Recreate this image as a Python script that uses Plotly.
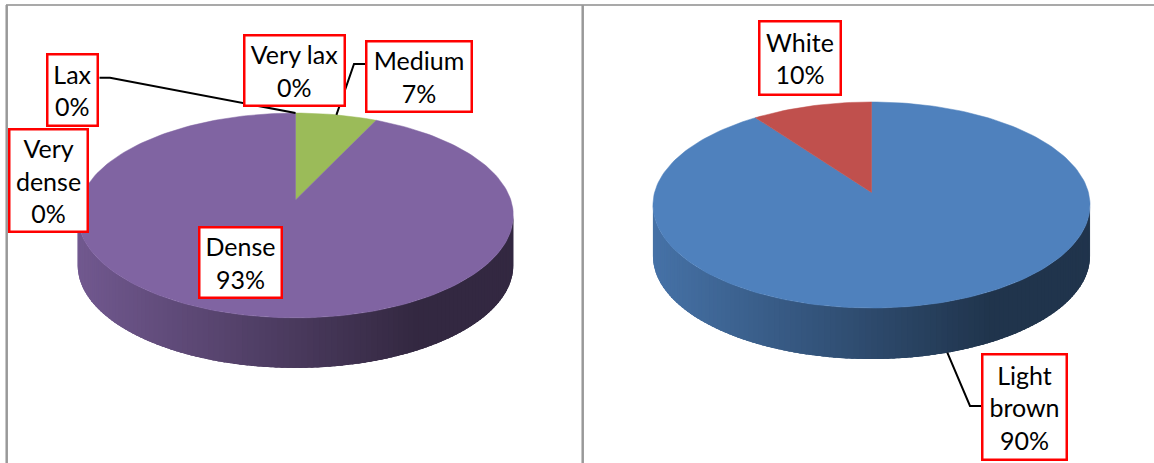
import numpy as np
import plotly.graph_objects as go

# ---------------- data ----------------
density_labels = ["Very lax", "Lax", "Medium", "Dense", "Very dense"]
density_values = [0, 0, 7, 93, 0]
color_labels = ["Light brown", "White"]
color_values = [90, 10]

# Excel 2007 default series colours
SERIES_COLORS = ["#4F81BD", "#C0504D", "#9BBB59", "#8064A2", "#4BACC6"]

W, H = 1154, 463
FONT = dict(family="Lato, 'Open Sans', sans-serif", size=25, color="black")

# ---------------- pie geometry (pixel space) ----------------
PIES = [
    dict(labels=density_labels, values=density_values,
         cx=295.5, cy=200.0, A=215.3, B=100.1, k=0.151, depth=50,
         boxes={  # centre x, centre y, box width, box height, wrap
             "Very lax": (294.2, 70.7, 103, 73, False),
             "Lax": (72.8, 89.7, 53, 74, False),
             "Medium": (418.8, 76.7, 108, 73, False),
             "Dense": (240.5, 262.5, 85, 73, False),
             "Very dense": (48.8, 180.0, 81, 105, True),
         },
         leaders={  # box-side start, elbow; end computed on pie
             "Lax": ((99.5, 77.7), (110, 77.7), "top"),
             "Medium": ((365, 64), (354, 64), "top"),
         }),
    dict(labels=color_labels, values=color_values,
         cx=871.5, cy=192.4, A=216.9, B=101.5, k=0.1223, depth=51,
         boxes={
             "White": (800.3, 57.9, 84, 76, False),
             "Light brown": (1024.5, 407.0, 87, 108, True),
         },
         leaders={
             "Light brown": ((981, 406), (970, 406), "bottom"),
         }),
]


def proj(p, theta, dz=0.0):
    """theta: radians clockwise from 12 o'clock (far side)."""
    u = np.sin(theta)
    v = -np.cos(theta)
    s = 1.0 / (1.0 - p["k"] * v)
    return p["cx"] + p["A"] * u * s, p["cy"] + p["B"] * v * s + dz


def darken(hexcol, f):
    h = hexcol.lstrip("#")
    r, g, b = (int(h[i:i + 2], 16) for i in (0, 2, 4))
    return "rgb(%d,%d,%d)" % (round(r * f), round(g * f), round(b * f))


fig = go.Figure()
annotations = []

for p in PIES:
    vals = np.array(p["values"], dtype=float)
    total = vals.sum()
    cum = np.concatenate([[0], np.cumsum(vals)]) / total * 2 * np.pi
    starts, ends = cum[:-1], cum[1:]

    def slice_at(th):
        for i in range(len(vals)):
            if vals[i] > 0 and starts[i] <= th <= ends[i]:
                return i
        return int(np.argmax(vals))

    # ---- side wall (front arc), shaded lighter left -> darker right ----
    t1 = np.arccos(-p["k"])
    t2 = 2 * np.pi - t1
    N = 120
    edges = np.linspace(t1, t2, N + 1)
    step = edges[1] - edges[0]
    xl, _ = proj(p, 3 * np.pi / 2)
    xr, _ = proj(p, np.pi / 2)
    for i in range(N):
        ta = edges[i]
        tb = min(edges[i + 1] + 1.5 * step, t2)
        ts = np.linspace(ta, tb, 5)
        xt, yt = proj(p, ts)
        xb, yb = proj(p, ts[::-1], p["depth"])
        xm, _ = proj(p, edges[i] + step / 2)
        pos = (xm - xl) / (xr - xl)  # 0 = left, 1 = right
        f = 0.88 - (0.88 - 0.40) * min(max(pos, 0) / 0.78, 1.0)
        col = darken(SERIES_COLORS[slice_at(edges[i] + step / 2)], f)
        fig.add_trace(go.Scatter(
            x=np.concatenate([xt, xb]), y=np.concatenate([yt, yb]),
            mode="lines", fill="toself", fillcolor=col,
            line=dict(width=0), hoverinfo="skip", showlegend=False))

    # ---- top face slices ----
    for i, lab in enumerate(p["labels"]):
        if vals[i] <= 0:
            continue
        ts = np.linspace(starts[i], ends[i], max(int(240 * vals[i] / total), 8))
        xs, ys = proj(p, ts)
        col = SERIES_COLORS[i]
        fig.add_trace(go.Scatter(
            x=np.concatenate([[p["cx"]], xs, [p["cx"]]]),
            y=np.concatenate([[p["cy"]], ys, [p["cy"]]]),
            mode="lines", fill="toself", fillcolor=col,
            line=dict(color=col, width=0.5), name=lab,
            hoverinfo="name", showlegend=False))

    # ---- leader lines ----
    for lab, (start, elbow, where) in p["leaders"].items():
        i = p["labels"].index(lab)
        mid = (starts[i] + ends[i]) / 2
        ex, ey = proj(p, mid, p["depth"] if where == "bottom" else 0.0)
        fig.add_trace(go.Scatter(
            x=[start[0], elbow[0], ex], y=[start[1], elbow[1], ey],
            mode="lines", line=dict(color="black", width=2),
            hoverinfo="skip", showlegend=False))

    # ---- data labels ----
    for i, lab in enumerate(p["labels"]):
        bx, by, bw, bh, wrap = p["boxes"][lab]
        pct = int(round(vals[i] / total * 100))
        name = lab.replace(" ", "<br>") if wrap else lab
        bwid = 2.5
        annotations.append(dict(
            x=bx, y=by, xref="x", yref="y", showarrow=False,
            text=f"{name}<br>{pct}%", font=FONT, align="center", valign="middle",
            bgcolor="white", bordercolor="#FF0000", borderwidth=bwid, borderpad=0,
            width=bw - 2 * bwid, height=bh - 2 * bwid,
            xanchor="center", yanchor="middle"))

# ---------------- frame lines ----------------
shapes = [
    dict(type="line", xref="x", yref="y", x0=6, x1=W, y0=5, y1=5,
         line=dict(color="#8C8C8C", width=1.5)),
    dict(type="line", xref="x", yref="y", x0=6.7, x1=6.7, y0=5, y1=H,
         line=dict(color="#999999", width=2.5)),
    dict(type="line", xref="x", yref="y", x0=582.7, x1=582.7, y0=5, y1=H,
         line=dict(color="#999999", width=2.5)),
]

fig.update_layout(
    width=W, height=H, margin=dict(l=0, r=0, t=0, b=0),
    paper_bgcolor="white", plot_bgcolor="white",
    xaxis=dict(range=[0, W], visible=False, fixedrange=True),
    yaxis=dict(range=[H, 0], visible=False, fixedrange=True),
    annotations=annotations, shapes=shapes, showlegend=False,
)

fig.write_html(
    "out.html",
    config={"displayModeBar": False},
    post_script="document.body.style.margin='0';document.body.style.overflow='hidden';",
)
